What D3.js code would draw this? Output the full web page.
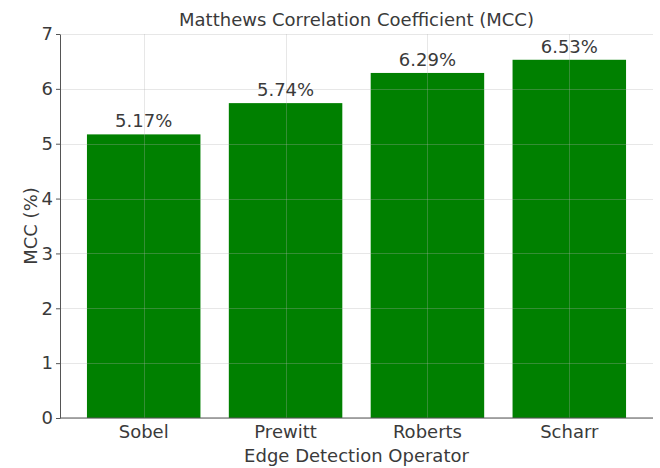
<!DOCTYPE html>
<html>
<head>
<meta charset="utf-8">
<script src="https://cdn.jsdelivr.net/npm/d3@7"></script>
<style>
  body { margin: 0; background: #fff; }
  text { font-family: "DejaVu Sans", sans-serif; fill: #3a3a3a; }
</style>
</head>
<body>
<div id="chart"></div>
<script>
// data
const operators = ["Sobel", "Prewitt", "Roberts", "Scharr"];
const mccValues = [5.17, 5.74, 6.29, 6.53];
const yTicks = [0, 1, 2, 3, 4, 5, 6, 7];

const width = 660, height = 468;
const margin = { top: 34, right: 7, bottom: 50, left: 60 };
const fs = 18;

const svg = d3.select("#chart").append("svg")
    .attr("width", width)
    .attr("height", height);

const x = d3.scaleBand()
    .domain(operators)
    .range([margin.left, width - margin.right])
    .paddingInner(0.2)
    .paddingOuter(0.19);

const y = d3.scaleLinear()
    .domain([0, 7])
    .range([height - margin.bottom, margin.top]);

//bars
svg.selectAll(".bar")
    .data(operators)
  .enter().append("rect")
    .attr("class", "bar")
    .attr("x", d => x(d))
    .attr("y", (d, i) => y(mccValues[i]))
    .attr("width", x.bandwidth())
    .attr("height", (d, i) => y(0) - y(mccValues[i]))
    .attr("fill", "#008000");

//grid on top of bars, faint
const grid = svg.append("g").attr("stroke", "#b0b0b0").attr("stroke-opacity", 0.3).attr("stroke-width", 1);
grid.selectAll(".hgrid")
    .data(yTicks)
  .enter().append("line")
    .attr("x1", margin.left).attr("x2", width - margin.right)
    .attr("y1", d => Math.round(y(d)) + 0.5).attr("y2", d => Math.round(y(d)) + 0.5);
grid.selectAll(".vgrid")
    .data(operators)
  .enter().append("line")
    .attr("x1", d => Math.round(x(d) + x.bandwidth() / 2) + 0.5)
    .attr("x2", d => Math.round(x(d) + x.bandwidth() / 2) + 0.5)
    .attr("y1", y(0)).attr("y2", y(7));

//axes
const xAxis = svg.append("g")
    .attr("transform", "translate(0," + y(0) + ")")
    .call(d3.axisBottom(x).tickSize(0).tickPadding(5));
xAxis.select(".domain").attr("stroke", "#555").attr("d", "M" + margin.left + ",0H" + (width - margin.right));
xAxis.selectAll("text").attr("font-size", fs).attr("dy", "0.85em");

const yAxis = svg.append("g")
    .attr("transform", "translate(" + margin.left + ",0)")
    .call(d3.axisLeft(y).tickValues(yTicks).tickFormat(d3.format("d")).tickSize(4).tickPadding(3).tickSizeOuter(0));
yAxis.select(".domain").attr("stroke", "#555");
yAxis.selectAll(".tick line").attr("stroke", "#555");
yAxis.selectAll("text").attr("font-size", fs);

//value labels
svg.selectAll(".val")
    .data(operators)
  .enter().append("text")
    .attr("x", d => x(d) + x.bandwidth() / 2)
    .attr("y", (d, i) => y(mccValues[i]) - 7)
    .attr("text-anchor", "middle")
    .attr("font-size", fs)
    .text((d, i) => mccValues[i].toFixed(2) + "%");

//title and axis labels
svg.append("text")
    .attr("x", (margin.left + width - margin.right) / 2)
    .attr("y", 26)
    .attr("text-anchor", "middle")
    .attr("font-size", fs)
    .text("Matthews Correlation Coefficient (MCC)");

svg.append("text")
    .attr("x", (margin.left + width - margin.right) / 2)
    .attr("y", 462)
    .attr("text-anchor", "middle")
    .attr("font-size", fs)
    .text("Edge Detection Operator");

svg.append("text")
    .attr("transform", "translate(37," + (margin.top + height - margin.bottom) / 2 + ") rotate(-90)")
    .attr("text-anchor", "middle")
    .attr("font-size", fs)
    .text("MCC (%)");
</script>
</body>
</html>
